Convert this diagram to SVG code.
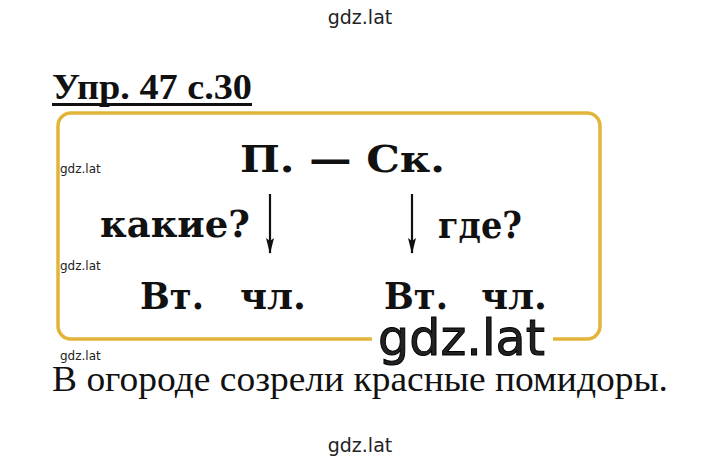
<svg xmlns="http://www.w3.org/2000/svg" width="720" height="468" viewBox="0 0 720 468">
<style>
.t{font-family:"Liberation Serif","DejaVu Serif",serif;fill:#111}
.s{font-family:"DejaVu Serif","Liberation Serif",serif;font-weight:bold;fill:#111}
.b{font-weight:bold}
.w{font-family:"DejaVu Sans","Liberation Sans",sans-serif;fill:#222}
.ar{stroke:#111;stroke-width:2.2;fill:none}
</style>
<defs>
<marker id="ah" viewBox="0 0 16 8" refX="15" refY="4" markerWidth="16" markerHeight="8" orient="auto" markerUnits="userSpaceOnUse"><path d="M0,0 L16,4 L0,8 L3,4 z" fill="#111"/></marker>
</defs>
<rect width="720" height="468" fill="#fff"/>
<text class="w" x="360" y="24" font-size="19" text-anchor="middle">gdz.lat</text>
<g id="title">
<text class="t b" x="52" y="99" font-size="36" textLength="200" lengthAdjust="spacingAndGlyphs">Упр. 47 с.30</text>
<line x1="52" y1="104.5" x2="252" y2="104.5" stroke="#111" stroke-width="3"/>
</g>
<g id="frame">
<rect x="58" y="113" width="542" height="226" rx="13" fill="none" stroke="#e2b53a" stroke-width="3.5"/>
</g>
<g id="top-node">
<text class="s" x="240" y="172" font-size="37" textLength="205" lengthAdjust="spacingAndGlyphs">П. — Ск.</text>
</g>
<g id="q-left"><text class="s" x="100" y="237" font-size="37" textLength="150" lengthAdjust="spacingAndGlyphs">какие?</text></g>
<g id="q-right"><text class="s" x="438" y="238" font-size="37" textLength="84" lengthAdjust="spacingAndGlyphs">где?</text></g>
<g id="connectors">
<line class="ar" x1="270" y1="194" x2="270" y2="253" marker-end="url(#ah)"/>
<line class="ar" x1="412" y1="194" x2="412" y2="253" marker-end="url(#ah)"/>
</g>
<g id="node-left">
<text class="s" x="140" y="309" font-size="38" textLength="64" lengthAdjust="spacingAndGlyphs">Вт.</text>
<text class="s" x="240" y="309" font-size="38" textLength="66" lengthAdjust="spacingAndGlyphs">чл.</text>
</g>
<g id="node-right">
<text class="s" x="384" y="309" font-size="38" textLength="64" lengthAdjust="spacingAndGlyphs">Вт.</text>
<text class="s" x="481" y="309" font-size="38" textLength="66" lengthAdjust="spacingAndGlyphs">чл.</text>
</g>
<g id="wm-big">
<rect x="372" y="313" width="181" height="56" fill="#fff"/>
<text class="w" x="378" y="355" font-size="50" textLength="167" lengthAdjust="spacingAndGlyphs" fill="#000" stroke="#000" stroke-width="1">gdz.lat</text>
</g>
<text class="w" x="60" y="173" font-size="12">gdz.lat</text>
<text class="w" x="60" y="270" font-size="12">gdz.lat</text>
<text class="w" x="60" y="360" font-size="12">gdz.lat</text>
<g id="sentence"><text class="t" x="52" y="391" font-size="36" textLength="616" lengthAdjust="spacingAndGlyphs">В огороде созрели красные помидоры.</text></g>
<text class="w" x="360" y="452" font-size="19" text-anchor="middle">gdz.lat</text>
</svg>
